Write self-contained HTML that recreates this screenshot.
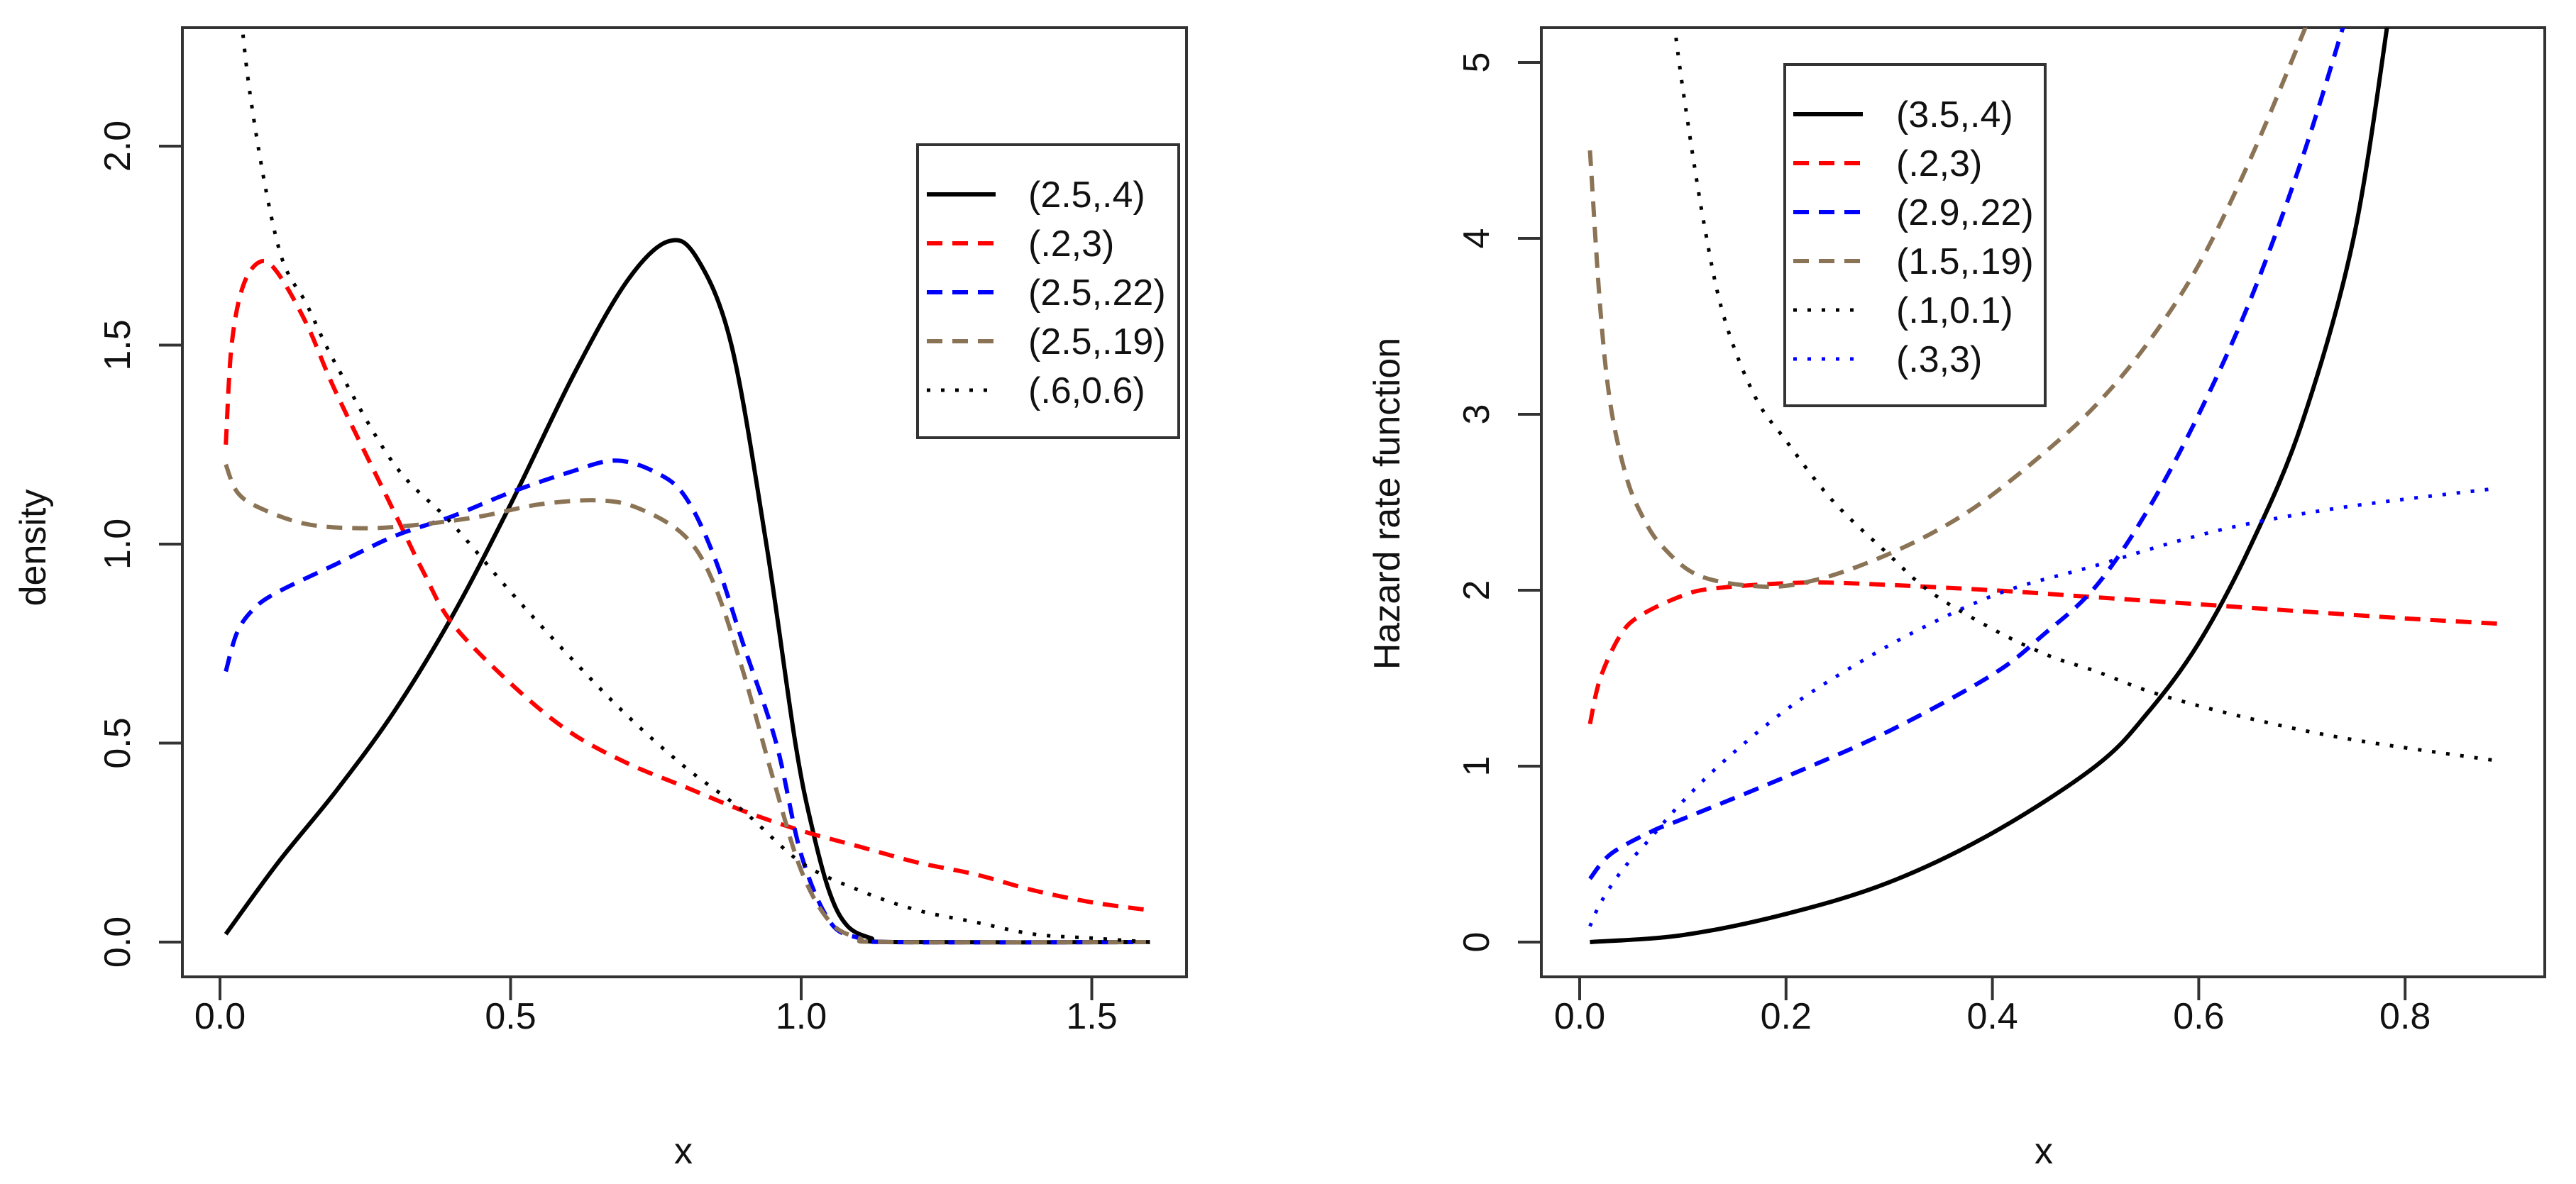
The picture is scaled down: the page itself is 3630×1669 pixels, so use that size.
<!DOCTYPE html>
<html><head><meta charset="utf-8"><style>
html,body{margin:0;padding:0;background:#fff;}
svg{display:block;}
text{font-family:"Liberation Sans",sans-serif;fill:#111;}
</style></head><body>
<svg id="root" width="3630" height="1669" viewBox="0 0 3630 1669" xmlns="http://www.w3.org/2000/svg">
<defs>
<clipPath id="clipL"><rect x="257" y="39" width="1415" height="1338"/></clipPath>
<clipPath id="clipR"><rect x="2172" y="39" width="1414" height="1338"/></clipPath>
</defs>
<g id="left"></g>
<g id="right"></g>
</svg>
<script>
// ---- Left panel data (density) ----
const leftXTicks = [0.0, 0.5, 1.0, 1.5];
const leftXTickLabels = ["0.0", "0.5", "1.0", "1.5"];
const leftYTicks = [0.0, 0.5, 1.0, 1.5, 2.0];
const leftYTickLabels = ["0.0", "0.5", "1.0", "1.5", "2.0"];
const leftLabels = ["(2.5,.4)", "(.2,3)", "(2.5,.22)", "(2.5,.19)", "(.6,0.6)"];
const densBlackX = [0.01,0.1,0.2,0.3,0.4,0.5,0.61,0.7,0.77,0.82,0.88,0.94,0.99,1.02,1.05,1.08,1.12,1.16,1.6];
const densBlackY = [0.02,0.2,0.38,0.58,0.82,1.1,1.43,1.66,1.76,1.72,1.5,1.0,0.5,0.28,0.12,0.04,0.01,0.0,0.0];
const densRedX = [0.01,0.02,0.04,0.07,0.1,0.15,0.2,0.3,0.35,0.4,0.5,0.6,0.7,0.8,0.9,1.0,1.1,1.2,1.3,1.4,1.5,1.6];
const densRedY = [1.25,1.5,1.65,1.71,1.68,1.55,1.38,1.08,0.93,0.8,0.65,0.53,0.45,0.39,0.33,0.28,0.24,0.2,0.17,0.13,0.1,0.08];
const densBlueX = [0.01,0.03,0.06,0.1,0.2,0.3,0.4,0.5,0.6,0.68,0.75,0.8,0.85,0.9,0.957,1.0,1.05,1.1,1.15,1.6];
const densBlueY = [0.68,0.78,0.84,0.88,0.95,1.02,1.07,1.13,1.18,1.21,1.18,1.12,0.97,0.75,0.5,0.22,0.05,0.01,0.0,0.0];
const densBrownX = [0.01,0.03,0.07,0.15,0.25,0.35,0.45,0.55,0.65,0.72,0.8,0.85,0.9,0.95,1.0,1.05,1.1,1.15,1.6];
const densBrownY = [1.2,1.13,1.09,1.05,1.04,1.05,1.07,1.1,1.11,1.09,1.02,0.9,0.68,0.42,0.18,0.05,0.01,0.0,0.0];
const densDotX = [0.02,0.05,0.1,0.15,0.2,0.3,0.4,0.5,0.6,0.7,0.8,0.9,1.0,1.1,1.2,1.3,1.4,1.5,1.6];
const densDotY = [2.6,2.15,1.75,1.6,1.45,1.2,1.05,0.88,0.72,0.57,0.44,0.33,0.2,0.13,0.08,0.05,0.02,0.01,0.0];

// ---- Right panel data (hazard) ----
const rightXTicks = [0.0, 0.2, 0.4, 0.6, 0.8];
const rightXTickLabels = ["0.0", "0.2", "0.4", "0.6", "0.8"];
const rightYTicks = [0, 1, 2, 3, 4, 5];
const rightYTickLabels = ["0", "1", "2", "3", "4", "5"];
const rightLabels = ["(3.5,.4)", "(.2,3)", "(2.9,.22)", "(1.5,.19)", "(.1,0.1)", "(.3,3)"];
const hazBlackX = [0.01,0.1,0.2,0.3,0.4,0.5,0.55,0.6,0.65,0.7,0.75,0.785];
const hazBlackY = [0.0,0.04,0.16,0.34,0.62,1.0,1.3,1.7,2.25,2.95,4.0,5.3];
const hazRedX = [0.01,0.02,0.04,0.06,0.1,0.13,0.2,0.26,0.4,0.5,0.6,0.7,0.8,0.89];
const hazRedY = [1.24,1.5,1.75,1.86,1.97,2.01,2.04,2.04,2.0,1.96,1.92,1.88,1.84,1.81];
const hazBlueX = [0.01,0.03,0.07,0.1,0.2,0.3,0.4,0.45,0.5,0.55,0.6,0.65,0.7,0.745];
const hazBlueY = [0.36,0.5,0.63,0.7,0.94,1.2,1.52,1.75,2.02,2.45,3.0,3.65,4.45,5.3];
const hazBrownX = [0.01,0.02,0.03,0.045,0.06,0.08,0.117,0.18,0.23,0.285,0.34,0.39,0.45,0.5,0.55,0.6,0.65,0.7,0.71];
const hazBrownY = [4.5,3.6,3.05,2.65,2.43,2.25,2.08,2.02,2.06,2.17,2.32,2.5,2.78,3.05,3.4,3.85,4.45,5.15,5.3];
const hazDotBlackX = [0.09,0.1,0.12,0.14,0.17,0.2,0.245,0.3,0.34,0.4,0.454,0.5,0.56,0.65,0.75,0.89];
const hazDotBlackY = [5.3,4.85,4.1,3.55,3.1,2.85,2.51,2.2,1.99,1.78,1.63,1.54,1.41,1.27,1.15,1.03];
const hazDotBlueX = [0.01,0.02,0.04,0.064,0.1,0.142,0.2,0.26,0.33,0.41,0.5,0.58,0.65,0.75,0.89];
const hazDotBlueY = [0.09,0.22,0.4,0.56,0.8,1.04,1.32,1.55,1.78,1.99,2.14,2.28,2.38,2.48,2.58];

const NS = "http://www.w3.org/2000/svg";
function mk(tag, attrs, parent) {
  const e = document.createElementNS(NS, tag);
  for (const k in attrs) e.setAttribute(k, attrs[k]);
  parent.appendChild(e);
  return e;
}
function smoothPath(pts) {
  let d = "M" + pts[0][0].toFixed(1) + "," + pts[0][1].toFixed(1);
  for (let i = 0; i < pts.length - 1; i++) {
    const p0 = pts[Math.max(0, i - 1)], p1 = pts[i], p2 = pts[i + 1], p3 = pts[Math.min(pts.length - 1, i + 2)];
    const c1x = p1[0] + (p2[0] - p0[0]) / 6, c1y = p1[1] + (p2[1] - p0[1]) / 6;
    const c2x = p2[0] - (p3[0] - p1[0]) / 6, c2y = p2[1] - (p3[1] - p1[1]) / 6;
    d += " C" + c1x.toFixed(1) + "," + c1y.toFixed(1) + " " + c2x.toFixed(1) + "," + c2y.toFixed(1) + " " + p2[0].toFixed(1) + "," + p2[1].toFixed(1);
  }
  return d;
}
const styles = {
  solid: {dash: "none", w: 6},
  dash: {dash: "22 14", w: 6},
  dot: {dash: "5 15", w: 5}
};

function panel(g, cfg) {
  const sx = v => cfg.x0 + (v - cfg.xmin) * cfg.xs;
  const sy = v => cfg.y0 - (v - cfg.ymin) * cfg.ys;
  const box = mk("rect", {x: cfg.bx, y: cfg.by, width: cfg.bw, height: cfg.bh, fill: "none", stroke: "#333", "stroke-width": 4}, g);
  
  
  const bottom = cfg.by + cfg.bh;
  const xa = mk("line", {x1: sx(cfg.xt[0]), x2: sx(cfg.xt[cfg.xt.length - 1]), y1: bottom, y2: bottom, stroke: "#333", "stroke-width": 4}, g);
  
  
  cfg.xt.forEach((v, i) => {
    const t = mk("line", {x1: sx(v), x2: sx(v), y1: bottom, y2: bottom + 33, stroke: "#333", "stroke-width": 4}, g);
    
    
    const tx = mk("text", {x: sx(v), y: 1450, "font-size": 52, "text-anchor": "middle"}, g);
    tx.textContent = cfg.xl[i];
    
    
  });
  const ya = mk("line", {x1: cfg.bx, x2: cfg.bx, y1: sy(cfg.yt[0]), y2: sy(cfg.yt[cfg.yt.length - 1]), stroke: "#333", "stroke-width": 4}, g);
  
  
  cfg.yt.forEach((v, i) => {
    const t = mk("line", {x1: cfg.bx - 33, x2: cfg.bx, y1: sy(v), y2: sy(v), stroke: "#333", "stroke-width": 4}, g);
    
    
    const tx = mk("text", {x: 0, y: 0, "font-size": 52, "text-anchor": "middle", transform: "translate(" + (cfg.bx - 74) + "," + sy(v) + ") rotate(-90)"}, g);
    tx.textContent = cfg.yl[i];
    
    
  });
  const xt = mk("text", {x: cfg.xTitleX, y: 1640, "font-size": 52, "text-anchor": "middle"}, g);
  xt.textContent = "x";
  
  
  const yt = mk("text", {x: 0, y: 0, "font-size": 52, "text-anchor": "middle", transform: "translate(" + cfg.yTitleX + "," + cfg.yTitleY + ") rotate(-90)"}, g);
  yt.textContent = cfg.yTitle;
  
  
  const cg = mk("g", {"clip-path": "url(#" + cfg.clip + ")"}, g);
  
  
  cfg.series.forEach(s => {
    const pts = s.x.map((v, i) => [sx(v), sy(s.y[i])]);
    const st = styles[s.type];
    const p = mk("path", {d: smoothPath(pts), fill: "none", stroke: s.color, "stroke-width": st.w, "stroke-dasharray": st.dash, "stroke-linejoin": "round"}, cg);
    
    
  });
  const lg = mk("g", {}, g);
  
  
  const lb = mk("rect", {x: cfg.lx, y: cfg.ly, width: cfg.lw, height: cfg.lh, fill: "#fff", stroke: "#333", "stroke-width": 4}, lg);
  
  
  cfg.series.forEach((s, i) => {
    const yy = cfg.rowY0 + i * cfg.rowDy;
    const st = styles[s.type];
    const l = mk("line", {x1: cfg.sampleX1, x2: cfg.sampleX2, y1: yy, y2: yy, stroke: s.color, "stroke-width": st.w, "stroke-dasharray": st.dash}, lg);
    
    
    const t = mk("text", {x: cfg.textX, y: yy + 18, "font-size": 52}, lg);
    t.textContent = cfg.labels[i];
    
    
  });
}

panel(document.getElementById("left"), {
  bx: 257, by: 39, bw: 1415, bh: 1338, x0: 310, xmin: 0, xs: 819, y0: 1328, ymin: 0, ys: 561,
  xt: leftXTicks, xl: leftXTickLabels, yt: leftYTicks, yl: leftYTickLabels,
  xTitleX: 963, yTitleX: 64, yTitleY: 772, yTitle: "density", clip: "clipL",
  lx: 1293, ly: 204, lw: 368, lh: 413, rowY0: 274, rowDy: 69, sampleX1: 1306, sampleX2: 1403, textX: 1449,
  labels: leftLabels,
  series: [
    {x: densBlackX, y: densBlackY, color: "#000", type: "solid", name: "density-curve-2.5-.4"},
    {x: densRedX, y: densRedY, color: "#ff0000", type: "dash", name: "density-curve-.2-3"},
    {x: densBlueX, y: densBlueY, color: "#0000ff", type: "dash", name: "density-curve-2.5-.22"},
    {x: densBrownX, y: densBrownY, color: "#8b7355", type: "dash", name: "density-curve-2.5-.19"},
    {x: densDotX, y: densDotY, color: "#000", type: "dot", name: "density-curve-.6-0.6"}
  ]
});
panel(document.getElementById("right"), {
  bx: 2172, by: 39, bw: 1414, bh: 1338, x0: 2226, xmin: 0, xs: 1454, y0: 1328, ymin: 0, ys: 248,
  xt: rightXTicks, xl: rightXTickLabels, yt: rightYTicks, yl: rightYTickLabels,
  xTitleX: 2880, yTitleX: 1972, yTitleY: 710, yTitle: "Hazard rate function", clip: "clipR",
  lx: 2515, ly: 91, lw: 367, lh: 481, rowY0: 161, rowDy: 69, sampleX1: 2527, sampleX2: 2625, textX: 2672,
  labels: rightLabels,
  series: [
    {x: hazBlackX, y: hazBlackY, color: "#000", type: "solid", name: "hazard-curve-3.5-.4"},
    {x: hazRedX, y: hazRedY, color: "#ff0000", type: "dash", name: "hazard-curve-.2-3"},
    {x: hazBlueX, y: hazBlueY, color: "#0000ff", type: "dash", name: "hazard-curve-2.9-.22"},
    {x: hazBrownX, y: hazBrownY, color: "#8b7355", type: "dash", name: "hazard-curve-1.5-.19"},
    {x: hazDotBlackX, y: hazDotBlackY, color: "#000", type: "dot", name: "hazard-curve-.1-0.1"},
    {x: hazDotBlueX, y: hazDotBlueY, color: "#0000ff", type: "dot", name: "hazard-curve-.3-3"}
  ]
});
</script>
</body></html>
